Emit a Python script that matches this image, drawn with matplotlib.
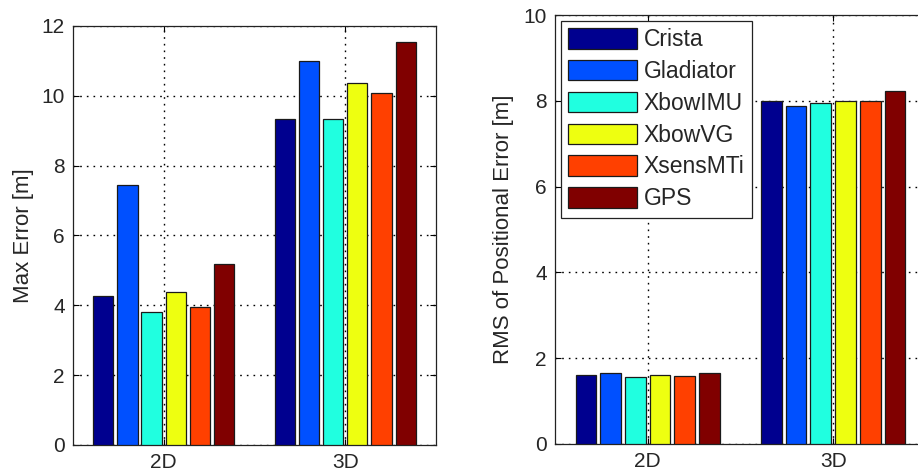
import matplotlib.pyplot as plt
import numpy as np

plt.rcParams['font.family'] = ['Liberation Sans', 'DejaVu Sans']

# data
groups = ["2D", "3D"]
sensors = ["Crista", "Gladiator", "XbowIMU", "XbowVG", "XsensMTi", "GPS"]
colors = ["#00008F", "#0050FF", "#20FFE0", "#EEFF10", "#FF4000", "#800000"]

max_err_2d = [4.28, 7.45, 3.80, 4.39, 3.96, 5.18]
max_err_3d = [9.34, 11.01, 9.34, 10.36, 10.07, 11.54]
rms_err_2d = [1.62, 1.65, 1.56, 1.62, 1.59, 1.65]
rms_err_3d = [7.99, 7.88, 7.95, 7.99, 7.99, 8.22]


def grouped_bars(ax, vals_2d, vals_3d):
    # MATLAB-like grouped bar layout: group width 0.8, bar 0.8 of slot
    x = np.arange(1, len(groups) + 1)
    n = len(sensors)
    slot = 0.8 / n
    handles = []
    for i, name in enumerate(sensors):
        off = (i - (n - 1) / 2) * slot
        h = ax.bar(x + off, [vals_2d[i], vals_3d[i]], width=slot * 0.84,
                   color=colors[i], edgecolor="#1a1a1a", linewidth=0.9,
                   label=name, zorder=3)
        handles.append(h)
    ax.set_xticks(x)
    ax.set_xticklabels(groups)
    ax.set_xlim(0.5, 2.5)
    ax.grid(True, color="black", linestyle=(0, (1.2, 3.6)), linewidth=1.0)
    ax.set_axisbelow(True)
    ax.tick_params(direction="in", length=4, width=0.8, labelsize=15,
                   labelcolor="#262626", top=True, right=True, pad=6)
    for s in ax.spines.values():
        s.set_linewidth(0.9)
        s.set_color("#222222")
    return handles


fig = plt.figure(figsize=(9.18, 4.74), dpi=100)

ax1 = fig.add_axes([0.0795, 0.0612, 0.3954, 0.884])
grouped_bars(ax1, max_err_2d, max_err_3d)
ax1.set_ylim(0, 12)
ax1.set_yticks(range(0, 13, 2))
ax1.set_ylabel("Max Error [m]", fontsize=16, color="#262626")
ax1.yaxis.set_label_coords(-0.107, 0.5)

ax2 = fig.add_axes([0.6046, 0.0633, 0.404, 0.905])
grouped_bars(ax2, rms_err_2d, rms_err_3d)
ax2.set_ylim(0, 10)
ax2.set_yticks(range(0, 11, 2))
ax2.set_ylabel("RMS of Positional Error [m]", fontsize=16, color="#262626")
ax2.yaxis.set_label_coords(-0.11, 0.5)

leg = ax2.legend(loc="upper left", fontsize=16.5, frameon=True, fancybox=False,
                 borderaxespad=0.25, handlelength=3.0, handleheight=1.0,
                 handletextpad=0.3, labelspacing=0.38, borderpad=0.32)
leg.get_frame().set_edgecolor("#222222")
leg.get_frame().set_linewidth(0.9)
leg.get_frame().set_alpha(1)
for t in leg.get_texts():
    t.set_color("#262626")

fig.savefig("out.png", dpi=100)
